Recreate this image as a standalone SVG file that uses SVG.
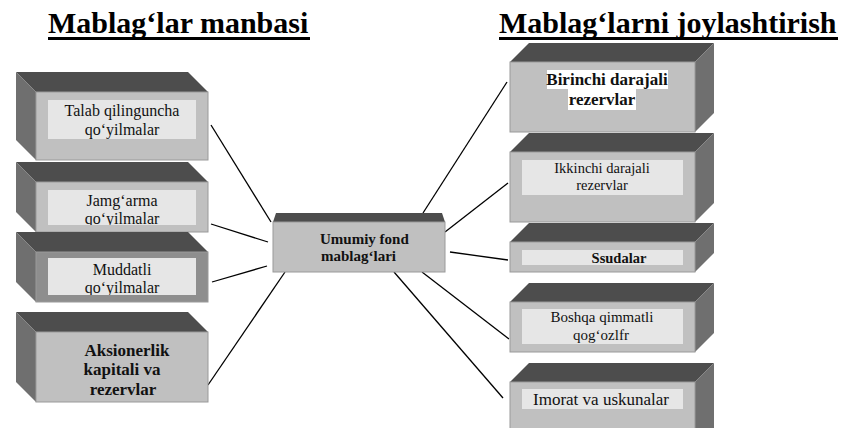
<svg xmlns="http://www.w3.org/2000/svg" width="843" height="428" viewBox="0 0 843 428">
<style>
.top{fill:#4d4d4d}
.side{fill:#6f6f6f}
.front{fill:#c0c0c0;stroke:#9a9a9a;stroke-width:1}
.frontd{fill:#8e8e8e;stroke:#9a9a9a;stroke-width:1}
.inner{fill:#e6e6e6}
text{font-family:'Liberation Serif','DejaVu Serif',serif}
.t{fill:#111;text-anchor:middle}
.s{text-anchor:start}
.b{font-weight:bold}
.title{font-weight:bold;font-size:30px;fill:#000}
#connectors line{stroke:#000;stroke-width:1.3}
</style>
<defs>
<clipPath id="c2"><rect x="48" y="190" width="148" height="35"/></clipPath>
<clipPath id="c3"><rect x="48" y="258" width="148" height="37"/></clipPath>
</defs>
<rect width="843" height="428" fill="#fff"/>

<g id="titles" font-family="Liberation Serif, DejaVu Serif, serif">
<text class="title" x="48" y="33">Mablag‘lar manbasi</text>
<rect x="48" y="37" width="262" height="3" fill="#000"/>
<text class="title" x="499" y="33">Mablag‘larni joylashtirish</text>
<rect x="499" y="37" width="339" height="3" fill="#000"/>
</g>

<g id="connectors">
<line x1="211" y1="125" x2="271" y2="222"/>
<line x1="211" y1="224" x2="268" y2="242"/>
<line x1="212" y1="282" x2="267" y2="266"/>
<line x1="208" y1="385" x2="285" y2="272"/>
<line x1="423" y1="213" x2="507" y2="82"/>
<line x1="445" y1="232" x2="508" y2="183"/>
<line x1="450" y1="252" x2="508" y2="260"/>
<line x1="422" y1="272" x2="509" y2="339"/>
<line x1="394" y1="272" x2="503" y2="398"/>
</g>

<g id="talab">
<polygon class="top" points="16,72 188,72 208,92 36,92"/>
<polygon class="side" points="16,72 36,92 36,160 16,140"/>
<rect class="front" x="36" y="92" width="172" height="68"/>
<rect class="inner" x="48" y="100" width="148" height="39"/>
<text class="t" font-size="16" x="122" y="116">Talab qilinguncha</text>
<text class="t" font-size="16" x="122" y="135">qo‘yilmalar</text>
</g>

<g id="jamgarma">
<polygon class="top" points="16,162 188,162 208,182 36,182"/>
<polygon class="side" points="16,162 36,182 36,232 16,212"/>
<rect class="front" x="36" y="182" width="172" height="50"/>
<rect class="inner" x="48" y="190" width="148" height="35"/>
<g clip-path="url(#c2)">
<text class="t" font-size="16" x="122" y="206">Jamg‘arma</text>
<text class="t" font-size="16" x="122" y="224">qo‘yilmalar</text>
</g>
</g>

<g id="muddatli">
<polygon class="top" points="16,232 188,232 208,252 36,252"/>
<polygon class="side" points="16,232 36,252 36,302 16,282"/>
<rect class="frontd" x="36" y="252" width="172" height="50"/>
<rect class="inner" x="48" y="258" width="148" height="37"/>
<g clip-path="url(#c3)">
<text class="t" font-size="16" x="122" y="275">Muddatli</text>
<text class="t" font-size="16" x="122" y="293">qo‘yilmalar</text>
</g>
</g>

<g id="aksionerlik">
<polygon class="top" points="16,312 188,312 208,332 36,332"/>
<polygon class="side" points="16,312 36,332 36,402 16,382"/>
<rect class="front" x="36" y="332" width="172" height="70"/>
<text class="t b" font-size="17" x="127" y="356">Aksionerlik</text>
<text class="t b" font-size="17" x="122" y="375">kapitali va</text>
<text class="t b" font-size="17" x="123" y="395">rezervlar</text>
</g>

<g id="umumiy">
<polygon class="top" points="276,213 442,213 445,222 273,222"/>
<rect class="front" x="273" y="222" width="172" height="50"/>
<text class="t b s" font-size="15" x="320" y="244">Umumiy fond</text>
<text class="t b s" font-size="15" x="321" y="261">mablag‘lari</text>
</g>

<g id="birinchi">
<polygon class="top" points="510,62 529,43 714,43 695,62"/>
<polygon class="side" points="695,62 714,43 714,113 695,132"/>
<rect class="front" x="510" y="62" width="185" height="70"/>
<rect x="547" y="70" width="121" height="19" fill="#fff"/>
<rect x="568" y="89" width="68" height="21" fill="#fff"/>
<text class="t b" font-size="17" x="607" y="85">Birinchi darajali</text>
<text class="t b" font-size="17" x="602" y="105">rezervlar</text>
</g>

<g id="ikkinchi">
<polygon class="top" points="510,152 529,133 714,133 695,152"/>
<polygon class="side" points="695,152 714,133 714,203 695,222"/>
<rect class="front" x="510" y="152" width="185" height="70"/>
<rect class="inner" x="522" y="160" width="161" height="35"/>
<text class="t" font-size="14.5" x="602" y="173">Ikkinchi darajali</text>
<text class="t" font-size="14.5" x="602" y="190">rezervlar</text>
</g>

<g id="ssudalar">
<polygon class="top" points="510,242 529,223 714,223 695,242"/>
<polygon class="side" points="695,242 714,223 714,253 695,272"/>
<rect class="front" x="510" y="242" width="185" height="30"/>
<rect class="inner" x="522" y="250" width="161" height="15"/>
<text class="t b" font-size="14.5" x="619" y="263">Ssudalar</text>
</g>

<g id="boshqa">
<polygon class="top" points="510,302 529,283 714,283 695,302"/>
<polygon class="side" points="695,302 714,283 714,333 695,352"/>
<rect class="front" x="510" y="302" width="185" height="50"/>
<rect class="inner" x="522" y="309" width="161" height="35"/>
<text class="t" font-size="15" x="602" y="322">Boshqa qimmatli</text>
<text class="t" font-size="15" x="601" y="340">qog‘ozlfr</text>
</g>

<g id="imorat">
<polygon class="top" points="510,382 529,363 714,363 695,382"/>
<polygon class="side" points="695,382 714,363 714,428 695,440"/>
<rect class="front" x="510" y="382" width="185" height="60"/>
<rect class="inner" x="522" y="389" width="161" height="20"/>
<text class="t" font-size="17" x="601" y="405">Imorat va uskunalar</text>
</g>
</svg>
